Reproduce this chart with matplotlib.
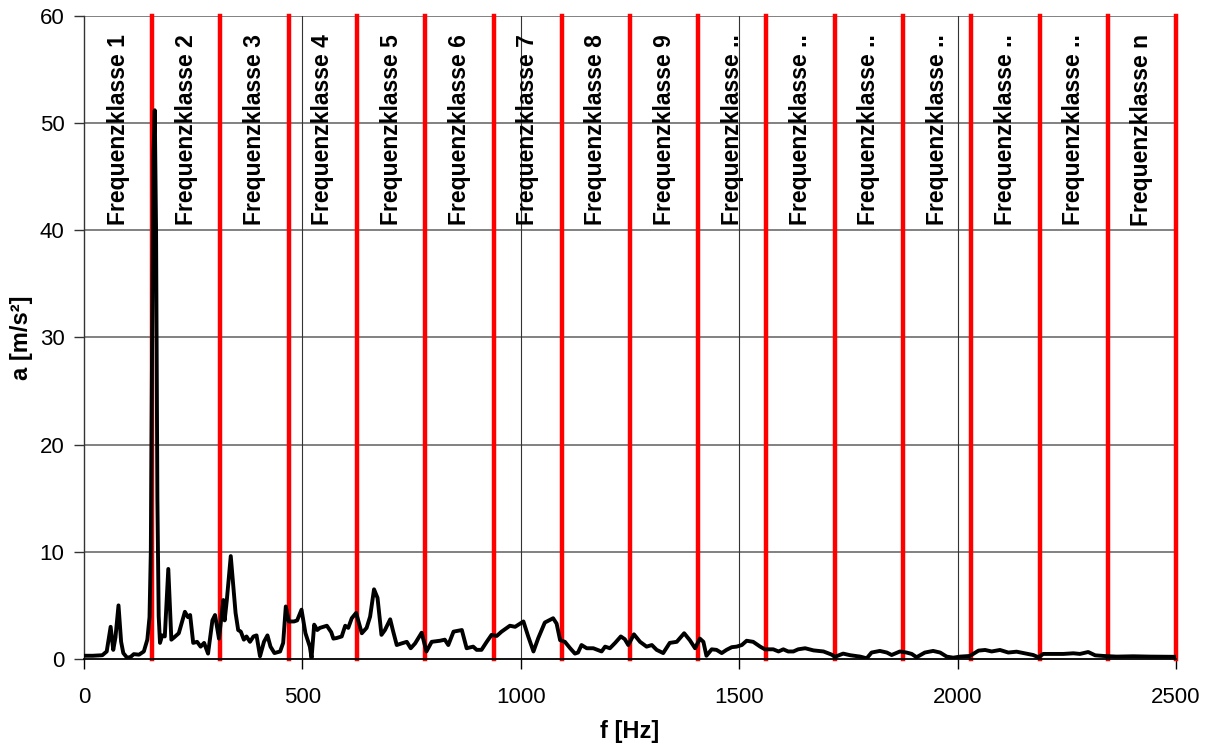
import matplotlib
matplotlib.use("Agg")
import matplotlib.pyplot as plt

plt.rcParams['font.family'] = ['Liberation Sans', 'DejaVu Sans']

# spectrum (frequency in Hz, acceleration in m/s²)
freq = [0, 20, 42, 52, 58, 61, 67, 72, 79, 85, 90, 99, 107, 114, 126, 137, 145, 150,
        153, 156, 159, 162, 165, 168, 171, 174, 179, 185, 193, 200, 206, 217, 231, 238,
        243, 250, 259, 267, 275, 284, 294, 300, 309, 319, 322, 327, 336, 347, 353, 359,
        366, 372, 380, 388, 395, 403, 412, 420, 427, 436, 449, 456, 462, 469, 481, 488,
        498, 507, 517, 521, 527, 534, 540, 556, 566, 571, 578, 590, 598, 605, 613, 623,
        636, 647, 655, 664, 672, 681, 689, 701, 707, 716, 727, 739, 748, 758, 773, 784,
        796, 815, 826, 834, 846, 865, 876, 891, 899, 910, 922, 933, 945, 956, 975, 987,
        1006, 1017, 1029, 1040, 1055, 1074, 1082, 1090, 1101, 1113, 1124, 1131, 1139,
        1151, 1166, 1185, 1193, 1204, 1216, 1229, 1238, 1246, 1259, 1273, 1288, 1300,
        1311, 1326, 1341, 1357, 1374, 1387, 1399, 1410, 1418, 1425, 1437, 1448, 1460,
        1471, 1483, 1494, 1506, 1517, 1532, 1548, 1559, 1578, 1590, 1601, 1612, 1624,
        1635, 1651, 1670, 1693, 1712, 1719, 1738, 1754, 1777, 1792, 1803, 1822, 1838,
        1849, 1868, 1883, 1895, 1906, 1925, 1944, 1960, 1975, 1990, 2006, 2028, 2048,
        2063, 2078, 2097, 2116, 2135, 2154, 2173, 2185, 2196, 2219, 2242, 2265, 2280,
        2299, 2315, 2334, 2364, 2402, 2440, 2500]
accel = [0.3, 0.3, 0.35, 0.7, 2.2, 3.0, 0.85, 2.0, 5.0, 1.6, 0.55, 0.1, 0.2, 0.45, 0.4,
         0.7, 1.8, 3.9, 10.0, 30.0, 47.0, 51.2, 40.0, 15.0, 4.0, 1.5, 2.2, 2.1, 8.4, 1.8,
         2.0, 2.4, 4.4, 3.9, 4.1, 1.5, 1.6, 1.15, 1.5, 0.5, 3.6, 4.1, 1.9, 5.5, 3.6, 5.5,
         9.6, 4.3, 2.7, 2.55, 1.8, 2.1, 1.6, 2.1, 2.2, 0.25, 1.6, 2.2, 1.15, 0.55, 0.7,
         1.5, 4.9, 3.5, 3.5, 3.6, 4.6, 2.4, 1.15, 0.1, 3.2, 2.7, 2.9, 3.1, 2.5, 1.9, 1.95,
         2.1, 3.1, 2.9, 3.8, 4.3, 2.4, 2.9, 3.95, 6.5, 5.7, 2.25, 2.7, 3.7, 2.7, 1.3, 1.45,
         1.6, 1.0, 1.45, 2.45, 0.7, 1.6, 1.7, 1.8, 1.3, 2.55, 2.7, 1.0, 1.15, 0.85, 0.85,
         1.6, 2.25, 2.15, 2.55, 3.1, 3.0, 3.5, 2.1, 0.7, 1.95, 3.4, 3.8, 3.3, 1.75, 1.6,
         1.0, 0.5, 0.6, 1.3, 1.0, 1.0, 0.7, 1.15, 1.0, 1.5, 2.1, 1.85, 1.3, 2.3, 1.6, 1.15,
         1.3, 0.85, 0.55, 1.5, 1.6, 2.4, 1.75, 1.0, 1.9, 1.6, 0.3, 0.9, 0.85, 0.55, 0.85,
         1.1, 1.15, 1.3, 1.7, 1.6, 1.15, 0.9, 0.9, 0.7, 0.9, 0.7, 0.7, 0.9, 1.0, 0.8, 0.7,
         0.4, 0.2, 0.5, 0.35, 0.22, 0.06, 0.6, 0.75, 0.6, 0.37, 0.7, 0.6, 0.47, 0.16, 0.6,
         0.75, 0.6, 0.22, 0.12, 0.22, 0.28, 0.78, 0.84, 0.7, 0.84, 0.6, 0.68, 0.53, 0.37,
         0.16, 0.47, 0.47, 0.47, 0.53, 0.47, 0.65, 0.34, 0.28, 0.22, 0.25, 0.22, 0.2]

# frequency class boundaries and labels
class_edges = [0, 156, 312, 469, 625, 781, 938, 1094, 1250, 1406, 1562, 1719, 1875,
               2031, 2188, 2344, 2500]
class_labels = ["Frequenzklasse 1", "Frequenzklasse 2", "Frequenzklasse 3",
                "Frequenzklasse 4", "Frequenzklasse 5", "Frequenzklasse 6",
                "Frequenzklasse 7", "Frequenzklasse 8", "Frequenzklasse 9",
                "Frequenzklasse ..", "Frequenzklasse ..", "Frequenzklasse ..",
                "Frequenzklasse ..", "Frequenzklasse ..", "Frequenzklasse ..",
                "Frequenzklasse n"]

x_ticks = [0, 500, 1000, 1500, 2000, 2500]
y_ticks = [0, 10, 20, 30, 40, 50, 60]

fig = plt.figure(figsize=(12.12, 7.43), dpi=100)
ax = fig.add_axes([0.0693, 0.1131, 0.9010, 0.8654])

ax.set_xlim(0, 2500)
ax.set_ylim(0, 60)
ax.set_xticks(x_ticks)
ax.set_yticks(y_ticks)

# grid
for yv in y_ticks[1:]:
    ax.axhline(yv, color='#777777', lw=1.3, zorder=1)
for xv in x_ticks[1:-1]:
    ax.axvline(xv, color='#333333', lw=0.8, zorder=1)

# class boundaries
for e in class_edges[1:]:
    ax.axvline(e, color='#ff0000', lw=3.2, zorder=2, clip_on=False)

ax.plot(freq, accel, color='black', lw=2.8, zorder=3, solid_joinstyle='round')

for i, lab in enumerate(class_labels):
    xc = (class_edges[i] + class_edges[i + 1]) / 2
    ax.text(xc, 58.3, lab, rotation=90, ha='center', va='top',
            fontsize=16.5, fontweight='bold', zorder=4)

for s in ['top', 'right']:
    ax.spines[s].set_visible(False)
ax.spines['left'].set_color('#333333')
ax.spines['left'].set_linewidth(1.0)
ax.spines['bottom'].set_color('black')
ax.spines['bottom'].set_linewidth(1.3)
ax.spines['bottom'].set_zorder(5)

ax.tick_params(axis='y', direction='out', length=7, width=1, labelsize=16, pad=7,
               color='#333333')
ax.tick_params(axis='x', direction='out', length=7, width=1, labelsize=16, pad=13)

ax.set_xlabel('f [Hz]', fontsize=17, fontweight='bold', labelpad=9)
ax.set_ylabel('a [m/s²]', fontsize=17, fontweight='bold', labelpad=5)

fig.savefig('out.png', dpi=100)
